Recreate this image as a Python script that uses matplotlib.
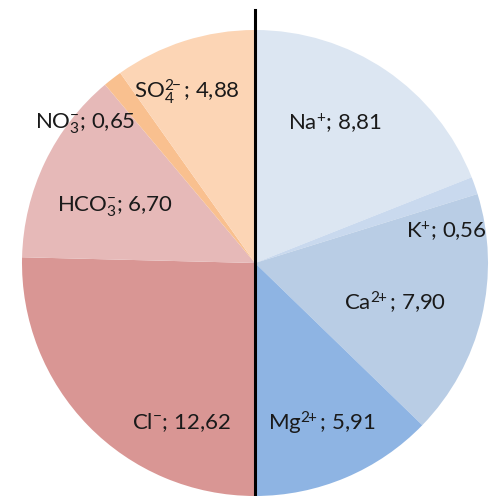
import numpy as np
import matplotlib
matplotlib.use('Agg')
import matplotlib.pyplot as plt

plt.rcParams['font.family'] = ['Lato', 'DejaVu Sans']
plt.rcParams['mathtext.fontset'] = 'custom'
plt.rcParams['mathtext.rm'] = 'Lato'
plt.rcParams['mathtext.it'] = 'Lato'
plt.rcParams['mathtext.bf'] = 'Lato:bold'

# ---------------------------------------------------------------------------
# Data (meq/L), cations on the right half, anions on the left half
# ---------------------------------------------------------------------------
CATIONS      = ['Na', 'K', 'Ca', 'Mg']
CATION_VALS  = [8.81, 0.56, 7.90, 5.91]
CATION_TEXT  = [r'Na$^{+}$', r'K$^{+}$', r'Ca$^{2\!\!+}$', r'Mg$^{2\!\!+}$']

ANIONS       = ['Cl', 'HCO3', 'NO3', 'SO4']
ANION_VALS   = [12.62, 6.70, 0.65, 4.88]
ANION_TEXT   = [r'Cl$^{-}$', r'HCO$_{3}^{-}$', r'NO$_{3}^{-}$', r'SO$_{4}^{2\!\!-}$']

CATION_COLORS = ['#dce6f2', '#c9d9ee', '#b9cde5', '#8eb4e3']
ANION_COLORS  = ['#d99694', '#e6b9b8', '#f9c08f', '#fcd5b5']

# label placement (in pie radius units)
CATION_POS = [(0.343, 0.601), (0.820, 0.137), (0.601, -0.172), (0.288, -0.687)]
ANION_POS  = [(-0.315, -0.687), (-0.601, 0.240), (-0.730, 0.597), (-0.292, 0.734)]


def fmt(v):
    return f'{v:.2f}'.replace('.', ',')


fig = plt.figure(figsize=(4.96, 4.96), dpi=100)
ax = fig.add_axes([0, 0, 1, 1])

# each half spans 180 degrees
cat = np.array(CATION_VALS) / sum(CATION_VALS) * 0.5
ani = np.array(ANION_VALS) / sum(ANION_VALS) * 0.5
weights = np.concatenate([cat, ani])
colors = CATION_COLORS + ANION_COLORS

ax.pie(weights, colors=colors, startangle=90, counterclock=False,
       radius=1.0, normalize=True,
       wedgeprops=dict(linewidth=0, edgecolor='none'))

for txt, v, (x, y) in zip(CATION_TEXT + ANION_TEXT,
                          CATION_VALS + ANION_VALS,
                          CATION_POS + ANION_POS):
    ax.text(x, y, f'{txt}; {fmt(v)}', ha='center', va='center',
            fontsize=16, color='#1a1a1a')

ax.plot([0, 0], [1.086, -1.0], color='black', linewidth=2.2, zorder=5)

ax.set_xlim(-255 / 233, (496 - 255) / 233)
ax.set_ylim(-(496 - 263) / 233, 263 / 233)
ax.set_aspect('auto')
ax.axis('off')

fig.savefig('out.png', dpi=100, facecolor='white')
